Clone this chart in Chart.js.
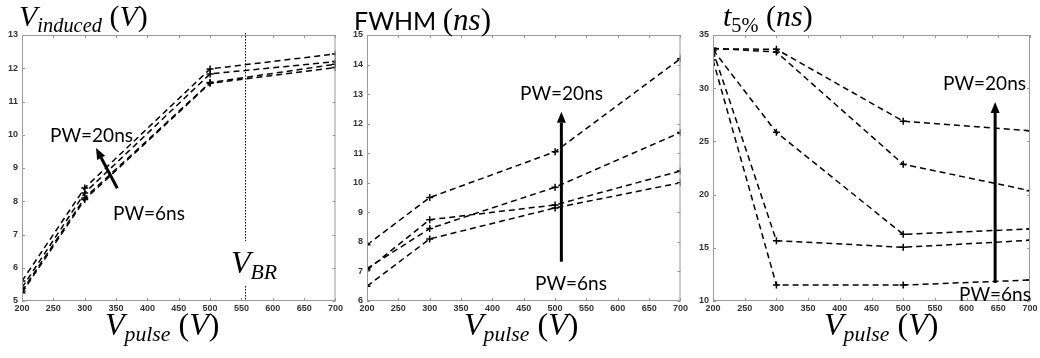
<!DOCTYPE html>
<html>
<head>
<meta charset="utf-8">
<script src="https://cdn.jsdelivr.net/npm/chart.js@4.4.1/dist/chart.umd.min.js"></script>
<style>
  body { margin: 0; background: #fff; }
  #wrap { position: relative; width: 1040px; height: 358px; overflow: hidden; }
  .pane { position: absolute; top: 0; height: 358px; }
  .txt { position: absolute; white-space: nowrap; color: #000; line-height: 1; }
  .math { font-family: "Liberation Serif", serif; font-style: italic; }
  .up { font-style: normal; }
  .sub { font-size: 0.68em; position: relative; top: 0.28em; }
  .lbl { font-family: Lato, "Noto Sans", sans-serif; font-size: 19px; }
</style>
</head>
<body>
<div id="wrap">
  <div class="pane" style="left:0;width:345px"><canvas id="c1"></canvas></div>
  <div class="pane" style="left:345px;width:345px"><canvas id="c2"></canvas></div>
  <div class="pane" style="left:690px;width:350px"><canvas id="c3"></canvas></div>

  <div class="txt math" style="left:19px;top:1px;font-size:30px">V<span class="sub">induced</span> <span class="up">(</span>V<span class="up">)</span></div>
  <div class="txt" style="left:354px;top:4px;font-size:25px;font-family:Lato,sans-serif">FWHM <span class="math" style="font-size:31px"><span class="up">(</span>ns<span class="up">)</span></span></div>
  <div class="txt math" style="left:723px;top:1px;font-size:30px">t<span class="sub up">5%</span> <span class="up">(</span>ns<span class="up">)</span></div>

  <div class="txt math" style="left:105px;top:308px;font-size:32px">V<span class="sub">pulse</span> <span class="up">(</span>V<span class="up">)</span></div>
  <div class="txt math" style="left:464px;top:308px;font-size:32px">V<span class="sub">pulse</span> <span class="up">(</span>V<span class="up">)</span></div>
  <div class="txt math" style="left:824px;top:308px;font-size:32px">V<span class="sub">pulse</span> <span class="up">(</span>V<span class="up">)</span></div>

  <div class="txt math" style="left:231px;top:246px;font-size:32px">V<span class="sub">BR</span></div>

  <div class="txt lbl" style="left:50px;top:125px">PW=20ns</div>
  <div class="txt lbl" style="left:113px;top:203px">PW=6ns</div>
  <div class="txt lbl" style="left:520px;top:83px">PW=20ns</div>
  <div class="txt lbl" style="left:535px;top:273px">PW=6ns</div>
  <div class="txt lbl" style="left:943px;top:73px">PW=20ns</div>
  <div class="txt lbl" style="left:959px;top:284px">PW=6ns</div>
</div>
<script>
// pulse voltage (V)
const vPulse = [200, 300, 500, 700];
const xTicks = [200, 250, 300, 350, 400, 450, 500, 550, 600, 650, 700];

// induced voltage (V), PW=20ns ... PW=6ns
const vInd1 = [5.6, 8.4, 11.98, 12.43];
const vInd2 = [5.4, 8.25, 11.83, 12.2];
const vInd3 = [5.3, 8.1, 11.57, 12.12];
const vInd4 = [5.25, 8.05, 11.55, 12.02];
const vIndTicks = [5, 6, 7, 8, 9, 10, 11, 12, 13];

// FWHM (ns)
const fwhm1 = [7.9, 9.5, 11.05, 14.2];
const fwhm2 = [7.1, 8.45, 9.85, 11.7];
const fwhm3 = [7.05, 8.75, 9.25, 10.4];
const fwhm4 = [6.5, 8.1, 9.15, 10.0];
const fwhmTicks = [6, 7, 8, 9, 10, 11, 12, 13, 14, 15];

// t5% (ns)
const t5a = [33.7, 33.66, 26.9, 26.0];
const t5b = [33.75, 33.4, 22.85, 20.37];
const t5c = [33.6, 25.85, 16.27, 16.77];
const t5d = [33.5, 15.67, 15.05, 15.7];
const t5e = [32.65, 11.5, 11.5, 11.97];
const t5Ticks = [10, 15, 20, 25, 30, 35];

const vBR = 555;

function toPts(ys) {
    return ys.map((y, i) => ({x: vPulse[i], y: y}));
}

const boxPlugin = {
    id: 'box',
    afterDraw(chart, args, opts) {
        const ctx = chart.ctx;
        const a = chart.chartArea;
        const xs = chart.scales.x, ys = chart.scales.y;
        ctx.save();
        ctx.strokeStyle = '#9a9a9a';
        ctx.lineWidth = 1;
        ctx.strokeRect(a.left + 0.5, a.top + 0.5, a.right - a.left - 1, a.bottom - a.top - 1);
        ctx.beginPath();
        xTicks.forEach(v => {
            const px = Math.round(xs.getPixelForValue(v)) + 0.5;
            ctx.moveTo(px, a.bottom); ctx.lineTo(px, a.bottom - 3);
            ctx.moveTo(px, a.top); ctx.lineTo(px, a.top + 3);
        });
        opts.yTicks.forEach(v => {
            const py = Math.round(ys.getPixelForValue(v)) + 0.5;
            ctx.moveTo(a.left, py); ctx.lineTo(a.left + 3, py);
            ctx.moveTo(a.right, py); ctx.lineTo(a.right - 3, py);
        });
        ctx.stroke();

        // vertical breakdown line
        if (opts.vline) {
            const px = Math.round(xs.getPixelForValue(opts.vline.x)) + 0.5;
            ctx.strokeStyle = '#000';
            ctx.setLineDash([1.5, 1.5]);
            ctx.beginPath();
            ctx.moveTo(px, a.top - 2);
            ctx.lineTo(px, ys.getPixelForValue(opts.vline.gapTop));
            ctx.moveTo(px, ys.getPixelForValue(opts.vline.gapBottom));
            ctx.lineTo(px, a.bottom);
            ctx.stroke();
            ctx.setLineDash([]);
        }

        // arrow
        if (opts.arrow) {
            const ar = opts.arrow;
            const x0 = xs.getPixelForValue(ar.x0), y0 = ys.getPixelForValue(ar.y0);
            const x1 = xs.getPixelForValue(ar.x1), y1 = ys.getPixelForValue(ar.y1);
            const ang = Math.atan2(y1 - y0, x1 - x0);
            const hl = 11, hw = 4.5;
            const bx = x1 - hl * Math.cos(ang), by = y1 - hl * Math.sin(ang);
            ctx.strokeStyle = '#000';
            ctx.fillStyle = '#000';
            ctx.lineWidth = 3;
            ctx.beginPath();
            ctx.moveTo(x0, y0);
            ctx.lineTo(bx, by);
            ctx.stroke();
            ctx.beginPath();
            ctx.moveTo(x1, y1);
            ctx.lineTo(bx + hw * Math.sin(ang), by - hw * Math.cos(ang));
            ctx.lineTo(bx - hw * Math.sin(ang), by + hw * Math.cos(ang));
            ctx.closePath();
            ctx.fill();
        }
        ctx.restore();
    }
};

function makeChart(id, series, yMin, yMax, yStep, yTicks, rightPad, extra) {
    const datasets = series.map(s => ({
        data: toPts(s),
        borderColor: '#000',
        backgroundColor: '#000',
        borderWidth: 1.5,
        borderDash: [6, 4],
        pointStyle: 'cross',
        pointRadius: 3.5,
        pointBorderWidth: 1.5,
        fill: false,
        tension: 0
    }));
    return new Chart(document.getElementById(id), {
        type: 'line',
        data: {datasets: datasets},
        options: {
            responsive: true,
            maintainAspectRatio: false,
            animation: false,
            layout: {padding: {top: 35, right: rightPad, left: 0, bottom: 0}},
            plugins: {
                legend: {display: false},
                tooltip: {enabled: false},
                box: Object.assign({yTicks: yTicks}, extra)
            },
            scales: {
                x: {
                    type: 'linear',
                    min: 200, max: 700,
                    grid: {display: false, drawTicks: false},
                    border: {display: false},
                    afterFit: s => { s.height = 57; },
                    ticks: {
                        stepSize: 50,
                        padding: 2,
                        maxRotation: 0,
                        autoSkip: false,
                        color: '#333',
                        font: {family: 'Liberation Sans', size: 9, weight: 'bold'}
                    }
                },
                y: {
                    min: yMin, max: yMax,
                    grid: {display: false, drawTicks: false},
                    border: {display: false},
                    afterFit: s => { s.width = extra.yWidth || 22; },
                    ticks: {
                        stepSize: yStep,
                        padding: 4,
                        color: '#333',
                        font: {family: 'Liberation Sans', size: 9, weight: 'bold'}
                    }
                }
            }
        },
        plugins: [boxPlugin]
    });
}

makeChart('c1', [vInd1, vInd2, vInd3, vInd4], 5, 13, 1, vIndTicks, 7, {
    vline: {x: vBR, gapTop: 6.81, gapBottom: 5.45},
    arrow: {x0: 352, y0: 8.39, x1: 318, y1: 9.6}
});
makeChart('c2', [fwhm1, fwhm2, fwhm3, fwhm4], 6, 15, 1, fwhmTicks, 7, {
    arrow: {x0: 510, y0: 7.33, x1: 510, y1: 12.4}
});
makeChart('c3', [t5a, t5b, t5c, t5d, t5e], 10, 35, 5, t5Ticks, 10, {
    yWidth: 23,
    arrow: {x0: 645, y0: 11.7, x1: 645, y1: 28.7}
});
</script>
</body>
</html>
